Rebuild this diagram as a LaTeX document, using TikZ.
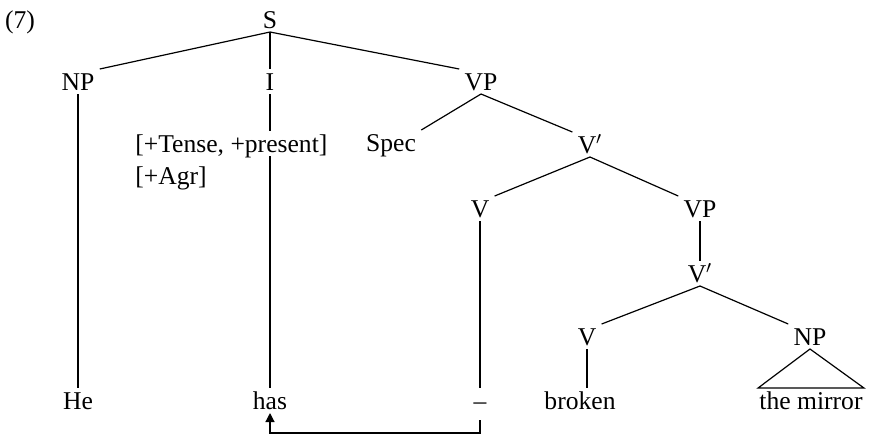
\documentclass[tikz,border=0pt]{standalone}
\usepackage{fontspec}
\setmainfont{Liberation Serif}
\usetikzlibrary{arrows.meta}

\begin{document}
\begin{tikzpicture}[x=0.5pt, y=-0.5pt,
    cat/.style={font=\fontsize{12.8}{15}\selectfont, inner xsep=2.5pt, inner ysep=1.8pt,
                text height=8.5pt, text depth=0pt, anchor=base},
    feat/.style={cat, anchor=base west, inner xsep=0pt},
    branch/.style={line width=0.6pt},
    move/.style={line width=0.6pt, -{Triangle[length=4.5pt, width=4.5pt]}}
]
\useasboundingbox (0,0) rectangle (872,435);

%% Top
\node[cat] (ex) at (20,28) {(7)};
\node[cat] (S) at (270,28) {S};

%% Subject, Infl, VP
\node[cat] (NPa) at (78,90) {NP};
\node[cat] (I) at (270,90) {I};
\node[cat] (VPa) at (481,90) {VP};
\node[feat] (fa) at (135,152) {[+Tense, +present]};
\node[feat] (fb) at (135,184) {[+Agr]};

%% Upper VP
\node[cat] (Spec) at (391,151) {Spec};
\node[cat] (Vba) at (590,153) {V$'$};
\node[cat] (Va) at (480,217) {V};
\node[cat] (VPb) at (700,217) {VP};

%% Lower VP
\node[cat] (Vbb) at (700,282) {V$'$};
\node[cat] (Vb) at (587,345) {V};
\node[cat] (NPb) at (810,345) {NP};

%% Words
\node[cat] (he) at (78,409) {He};
\node[cat] (has) at (270,409) {has};
\node[cat] (tr) at (480,409) {--};
\node[cat] (brk) at (580,409) {broken};
\node[cat] (mir) at (811,409) {the mirror};

%% Branches
\draw[branch] (S.south) -- (NPa.north east);
\draw[branch] (S.south) -- (I.north);
\draw[branch] (S.south) -- (VPa.north west);
\draw[branch] (VPa.south) -- (Spec.north east);
\draw[branch] (VPa.south) -- (Vba.north west);
\draw[branch] (Vba.south) -- (Va.north east);
\draw[branch] (Vba.south) -- (VPb.north west);
\draw[branch] (VPb.south) -- (Vbb.north);
\draw[branch] (Vbb.south) -- (Vb.north east);
\draw[branch] (Vbb.south) -- (NPb.north west);
\draw[branch] (NPa.south) -- (he.north);
\draw[branch] (I.south) -- (I |- fa.north);
\draw[branch] (I |- fa.south) -- (has.north);
\draw[branch] (Va.south) -- (tr.north);
\draw[branch] (Vb.south) -- (Vb |- brk.north);
\draw[branch] (NPb.south) -- ([xshift=2pt]mir.north west) -- ([xshift=-2pt]mir.north east) -- cycle;

%% Movement
\draw[move] ([yshift=-3.5pt]tr.south) |- ([yshift=-10pt]has.south) -- (has.south);

\end{tikzpicture}
\end{document}
